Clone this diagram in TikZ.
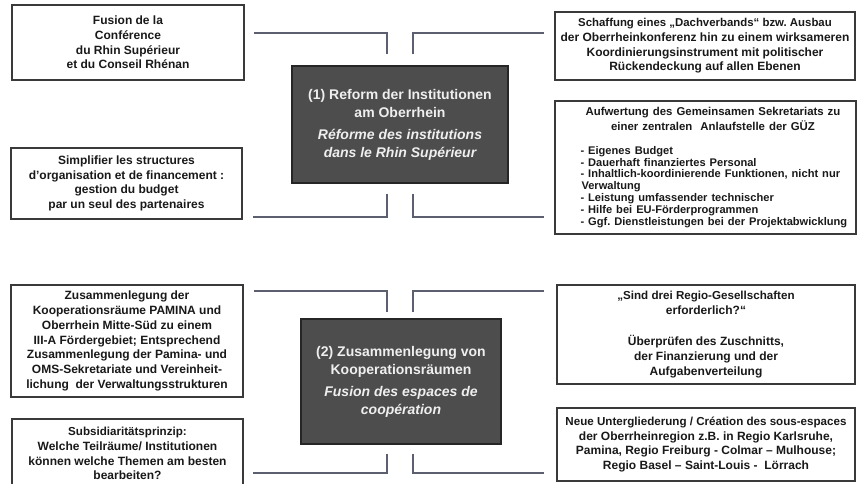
\documentclass[tikz,border=0pt]{standalone}
\usepackage{fontspec}
\setmainfont{Liberation Sans}
\frenchspacing
\definecolor{BOXgray}{HTML}{3A3A3A}
\definecolor{COREgray}{HTML}{4D4D4D}
\definecolor{COREtext}{HTML}{EFEFEF}
\definecolor{LINKgray}{HTML}{5C5F70}
\usetikzlibrary{calc, positioning}

\begin{document}
\begin{tikzpicture}[x=1pt, y=-1pt,
      idea/.style={draw=BOXgray, line width=1.7pt, fill=white, text=black!90,
         font=\fontsize{12}{14.7}\selectfont\bfseries, align=center, inner sep=0pt},
      core/.style={draw=black!85, line width=1.2pt, fill=COREgray, text=COREtext,
         font=\fontsize{14}{18}\selectfont\bfseries, align=center, inner sep=0pt},
      link/.style={draw=LINKgray, line width=1.6pt}]
            \useasboundingbox (0,0) rectangle (857,483);
            \clip (0,0) rectangle (857,483);
            % Levels of the connectors
            \coordinate (lvlA) at (0,33);
            \coordinate (lvlB) at (0,217);
            \coordinate (lvlC) at (0,291);
            \coordinate (lvlD) at (0,473);
            % (1) Reform der Institutionen
            \node[core, minimum width=216pt, minimum height=117pt] (ref1) at (400,124.5)
               {(1) Reform der Institutionen\\ am Oberrhein\\[4pt]
                \itshape Réforme des institutions\\ \itshape dans le Rhin Supérieur};
            \node[idea, minimum width=232pt, minimum height=75pt] (fusion) at (128,42.5)
               {Fusion de la\\ Conférence\\ du Rhin Supérieur\\ et du Conseil Rhénan};
            \node[idea, minimum width=300pt, minimum height=68pt] (dach) at (705,46)
               {\fontsize{11.4}{13.8}\selectfont Schaffung eines „Dachverbands“ bzw. Ausbau\\
                der Oberrheinkonferenz hin zu einem wirksameren\\
                Koordinierungsinstrument mit politischer\\ Rückendeckung auf allen Ebenen};
            \node[idea, minimum width=231pt, minimum height=71pt] (simpl) at (126.5,183.5)
               {\fontsize{12}{15}\selectfont Simplifier les structures\\ d'organisation et de financement :\\
                gestion du budget\\ par un seul des partenaires};
            \node[idea, minimum width=301pt, minimum height=133pt, text width=290pt, align=left] (aufw) at (705.5,167.5)
               {{\leftskip=20pt plus 1fil\rightskip=5pt plus 1fil\parfillskip=0pt
                \fontsize{11.4}{14.7}\selectfont Aufwertung des Gemeinsamen Sekretariats zu\\
                einer zentralen\ \ Anlaufstelle der GÜZ\par}\vspace{12pt}
                {\leftskip=20pt\rightskip=-10pt plus 1fil
                \fontsize{11.1}{11.8}\selectfont
                - Eigenes Budget\\ - Dauerhaft finanziertes Personal\\
                - Inhaltlich-koordinierende Funktionen, nicht nur\\ \hspace*{1pt}Verwaltung\\
                - Leistung umfassender technischer\\ - Hilfe bei EU-Förderprogrammen\\
                - Ggf. Dienstleistungen bei der Projektabwicklung\par}};
            % (2) Zusammenlegung von Kooperationsräumen
            \node[core, minimum width=200pt, minimum height=125pt] (ref2) at (401,381.5)
               {(2) Zusammenlegung von\\ Kooperationsräumen\\[4pt]
                \itshape Fusion des espaces de\\ \itshape coopération};
            \node[idea, minimum width=232pt, minimum height=112pt] (zus) at (127,341)
               {\fontsize{12}{15.2}\selectfont Zusammenlegung der\\ Kooperationsräume PAMINA und\\
                Oberrhein Mitte-Süd zu einem\\ III-A Fördergebiet; Entsprechend\\
                Zusammenlegung der Pamina- und\\ OMS-Sekretariate und Vereinheit-\\
                lichung\ \ der Verwaltungsstrukturen};
            \node[idea, minimum width=231pt, minimum height=69pt] (subs) at (127.5,453.5)
               {\fontsize{11.6}{14}\selectfont Subsidiaritätsprinzip:\\ Welche Teilräume/ Institutionen\\
                können welche Themen am besten\\ bearbeiten?};
            \node[idea, minimum width=298pt, minimum height=99pt] (sind) at (706,334.5)
               {\fontsize{11.6}{15}\selectfont „Sind drei Regio-Gesellschaften\\ erforderlich?“\\[17pt]
                Überprüfen des Zuschnitts,\\ der Finanzierung und der\\ Aufgabenverteilung};
            \node[idea, minimum width=298pt, minimum height=73pt] (neue) at (706,444.5)
               {\fontsize{11.6}{14.7}\selectfont Neue Untergliederung / Création des sous-espaces\\
                der Oberrheinregion z.B. in Regio Karlsruhe,\\
                Pamina, Regio Freiburg - Colmar – Mulhouse;\\
                Regio Basel – Saint-Louis -\ \ Lörrach};
            % Connectors of (1)
            \draw[link] ([xshift=-13pt,yshift=11pt]ref1.north) |- ($(fusion.east |- lvlA)+(9,0)$);
            \draw[link] ([xshift=13pt,yshift=11pt]ref1.north) |- ($(dach.west |- lvlA)+(-10,0)$);
            \draw[link] ([xshift=-13pt,yshift=-10pt]ref1.south) |- ($(simpl.east |- lvlB)+(10,0)$);
            \draw[link] ([xshift=13pt,yshift=-10pt]ref1.south) |- ($(aufw.west |- lvlB)+(-10,0)$);
            % Connectors of (2)
            \draw[link] ([xshift=-14pt,yshift=6pt]ref2.north) |- ($(zus.east |- lvlC)+(10,0)$);
            \draw[link] ([xshift=12pt,yshift=6pt]ref2.north) |- ($(sind.west |- lvlC)+(-12,0)$);
            \draw[link] ([xshift=-14pt,yshift=-9pt]ref2.south) |- ($(subs.east |- lvlD)+(9,0)$);
            \draw[link] ([xshift=12pt,yshift=-9pt]ref2.south) |- ($(neue.west |- lvlD)+(-12,0)$);
         \end{tikzpicture}
\end{document}
